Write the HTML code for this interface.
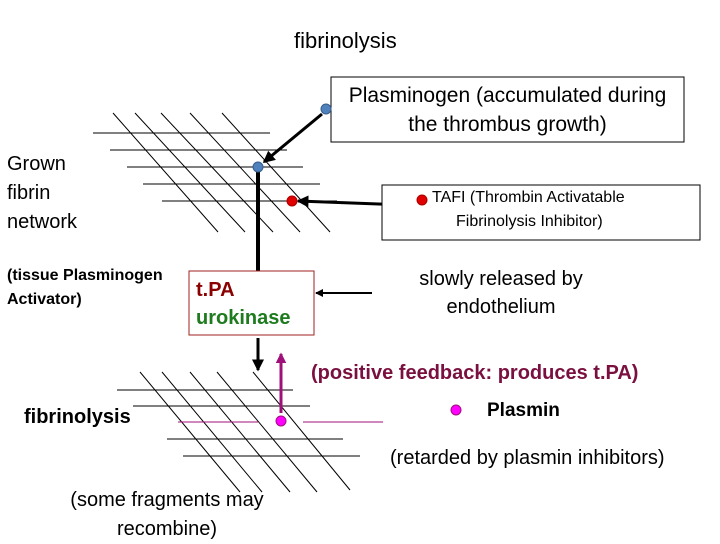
<!DOCTYPE html>
<html><head><style>
body{margin:0;width:720px;height:540px;background:#fff;position:relative;overflow:hidden;font-family:"Liberation Sans","DejaVu Sans",sans-serif;}
.t{position:absolute;white-space:nowrap;}
</style></head><body>
<svg width="720" height="540" style="position:absolute;left:0;top:0">
<defs>
<marker id="a" markerWidth="4" markerHeight="4" refX="3.5" refY="2" orient="auto" markerUnits="strokeWidth"><path d="M0,0 L4,2 L0,4 z" fill="#000"/></marker>
<marker id="b" markerWidth="6" markerHeight="6" refX="5" refY="3" orient="auto" markerUnits="strokeWidth"><path d="M0,0 L6,3 L0,6 z" fill="#000"/></marker>
<marker id="p" markerWidth="3.5" markerHeight="3.5" refX="3" refY="1.75" orient="auto" markerUnits="strokeWidth"><path d="M0,0 L3.5,1.75 L0,3.5 z" fill="#a0107a"/></marker>
</defs>
<g stroke="#000" stroke-width="1">
<line x1="93" y1="133" x2="270" y2="133"/>
<line x1="110" y1="150" x2="287" y2="150"/>
<line x1="127" y1="167" x2="303" y2="167"/>
<line x1="143" y1="184" x2="320" y2="184"/>
<line x1="162" y1="201" x2="337" y2="201"/>
<line x1="113" y1="113" x2="218" y2="232"/>
<line x1="135" y1="113" x2="245" y2="232"/>
<line x1="161" y1="113" x2="273" y2="232"/>
<line x1="190" y1="113" x2="300" y2="232"/>
<line x1="222" y1="113" x2="330" y2="232"/>
<line x1="117" y1="390" x2="293" y2="390"/>
<line x1="133" y1="406" x2="310" y2="406"/>
<line x1="167" y1="439" x2="343" y2="439"/>
<line x1="183" y1="456" x2="360" y2="456"/>
<line x1="140" y1="372" x2="240" y2="492"/>
<line x1="162" y1="372" x2="262" y2="492"/>
<line x1="190" y1="372" x2="290" y2="492"/>
<line x1="217" y1="372" x2="317" y2="492"/>
<line x1="253" y1="372" x2="350" y2="490"/>
</g>
<g stroke="#a0107a" stroke-width="1">
<line x1="178" y1="422" x2="258" y2="422"/>
<line x1="303" y1="422" x2="383" y2="422"/>
</g>
<line x1="322" y1="114" x2="264" y2="162" stroke="#000" stroke-width="3" marker-end="url(#a)"/>
<line x1="258" y1="170" x2="258" y2="271" stroke="#000" stroke-width="4"/>
<line x1="258" y1="338" x2="258" y2="370" stroke="#000" stroke-width="3" marker-end="url(#a)"/>
<line x1="405" y1="205" x2="298" y2="201" stroke="#000" stroke-width="3" marker-end="url(#a)"/>
<line x1="372" y1="293" x2="316" y2="293" stroke="#000" stroke-width="2" marker-end="url(#a)"/>
<line x1="281" y1="413" x2="281" y2="354" stroke="#a0107a" stroke-width="3" marker-end="url(#p)"/>
<rect x="331" y="77" width="353" height="65" fill="#fff" stroke="#000" stroke-width="1"/>
<rect x="382" y="185" width="318" height="55" fill="#fff" stroke="#000" stroke-width="1"/>
<rect x="189" y="271" width="125" height="64" fill="#fff" stroke="#a02020" stroke-width="1"/>
<circle cx="326" cy="109" r="5" fill="#4f81bd" stroke="#385d8a"/>
<circle cx="258" cy="167" r="5" fill="#4f81bd" stroke="#385d8a"/>
<circle cx="292" cy="201" r="5" fill="#e00000" stroke="#a00"/>
<circle cx="422" cy="200" r="5" fill="#e00000" stroke="#a00"/>
<circle cx="281" cy="421" r="5" fill="#ff00ff" stroke="#a0107a"/>
<circle cx="456" cy="410" r="5" fill="#ff00ff" stroke="#a0107a"/>
</svg>
<div class="t" style="left:294px;top:28px;font-size:22px;">fibrinolysis</div>
<div class="t" style="left:331px;top:81px;width:353px;text-align:center;font-size:21px;line-height:29px;">Plasminogen (accumulated during<br>the thrombus growth)</div>
<div class="t" style="left:7px;top:150px;font-size:20px;line-height:29px;">Grown<br>fibrin<br>network</div>
<div class="t" style="left:432px;top:189px;font-size:16px;">TAFI (Thrombin Activatable</div>
<div class="t" style="left:456px;top:213px;font-size:16px;">Fibrinolysis Inhibitor)</div>
<div class="t" style="left:7px;top:264px;font-size:16px;font-weight:bold;line-height:24px;">(tissue Plasminogen<br>Activator)</div>
<div class="t" style="left:196px;top:276px;font-size:20px;font-weight:bold;line-height:28px;"><span style="color:#8b0000">t.PA</span><br><span style="color:#1e7b1e">urokinase</span></div>
<div class="t" style="left:401px;top:265px;width:200px;text-align:center;font-size:20px;line-height:28px;">slowly released by<br>endothelium</div>
<div class="t" style="left:311px;top:362px;font-size:20px;font-weight:bold;color:#7a1040;">(positive feedback: produces t.PA)</div>
<div class="t" style="left:487px;top:400px;font-size:19px;font-weight:bold;">Plasmin</div>
<div class="t" style="left:24px;top:406px;font-size:20px;font-weight:bold;">fibrinolysis</div>
<div class="t" style="left:390px;top:447px;font-size:20px;">(retarded by plasmin inhibitors)</div>
<div class="t" style="left:52px;top:486px;width:230px;text-align:center;font-size:20px;line-height:29px;">(some fragments may<br>recombine)</div>
</body></html>
